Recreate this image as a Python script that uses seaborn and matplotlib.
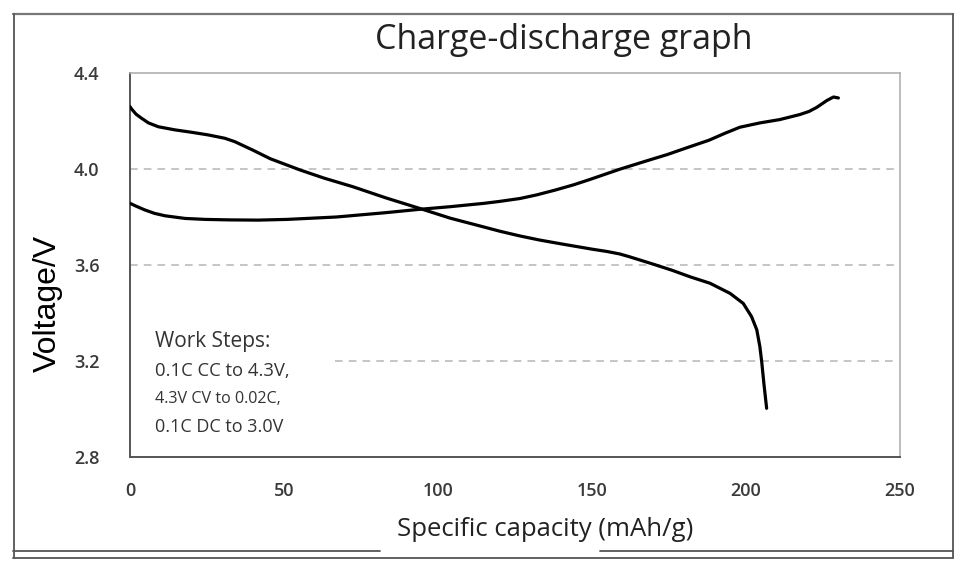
import matplotlib
matplotlib.use("Agg")
from matplotlib import pyplot as plt
from matplotlib.lines import Line2D
import pandas as pd
import seaborn as sns

# discharge curve (0.1C DC to 3.0V)
discharge_cap = [0, 0.5, 2, 3.8, 6, 9.2, 14.6, 20, 25.4, 30.8, 34, 40, 45.5, 55.2, 63, 72.4, 83,
                 94, 104, 115, 120, 126.6, 133, 140, 150, 155, 159, 162, 165, 170, 176, 181.8,
                 188.3, 194.8, 199.1, 201.8, 203.5, 204.5, 205.1, 205.8, 206.7]
discharge_v = [4.26, 4.25, 4.228, 4.211, 4.192, 4.176, 4.163, 4.153, 4.142, 4.128, 4.114, 4.078,
               4.043, 3.996, 3.962, 3.926, 3.88, 3.836, 3.795, 3.758, 3.741, 3.721, 3.704, 3.688,
               3.666, 3.656, 3.646, 3.635, 3.623, 3.603, 3.578, 3.551, 3.524, 3.482, 3.44, 3.385,
               3.33, 3.26, 3.197, 3.107, 3.003]

# charge curve (0.1C CC to 4.3V)
charge_cap = [0, 2, 4.9, 8, 11.4, 17.9, 24.4, 32, 41.6, 51, 67, 83, 94, 104, 115, 120, 126.6,
              132, 138, 144, 149, 159, 168, 174.4, 180, 188, 193, 198, 204.5, 211, 217.5, 220.5,
              223, 226.2, 228.4, 230]
charge_v = [3.857, 3.845, 3.829, 3.815, 3.805, 3.794, 3.79, 3.788, 3.787, 3.79, 3.80, 3.818,
            3.832, 3.843, 3.857, 3.865, 3.877, 3.892, 3.912, 3.934, 3.955, 3.999, 4.035, 4.06,
            4.085, 4.12, 4.148, 4.174, 4.192, 4.206, 4.227, 4.24, 4.257, 4.285, 4.30, 4.296]

x_ticks = [0, 50, 100, 150, 200, 250]
y_ticks = [2.8, 3.2, 3.6, 4.0, 4.4]
grid_levels = [4.0, 3.6, 3.2]
steps_text = ["Work Steps:", "0.1C CC to 4.3V,", "4.3V CV to 0.02C,", "0.1C DC to 3.0V"]

W, H = 973, 573

sns.set_style("white")
plt.rcParams['font.family'] = ['Open Sans', 'DejaVu Sans']

df = pd.concat([
    pd.DataFrame({"cap": discharge_cap, "v": discharge_v, "step": "discharge"}),
    pd.DataFrame({"cap": charge_cap, "v": charge_v, "step": "charge"}),
])

fig = plt.figure(figsize=(W / 100, H / 100), dpi=100)
ax = fig.add_axes([130 / W, 1 - 457 / H, 770 / W, 384 / H])

# 网格虚线
for lv in grid_levels:
    start = 0.266 if lv == 3.2 else 0.0
    ax.axhline(lv, xmin=start, xmax=0.994, color="#b5b5b5", lw=1.1, ls=(0, (5, 4)), zorder=1)

sns.lineplot(data=df, x="cap", y="v", units="step", estimator=None, sort=False,
             color="black", lw=2.3, ax=ax, zorder=3, solid_joinstyle="round",
             solid_capstyle="round")

ax.set_xlim(0, 250)
ax.set_ylim(2.8, 4.4)
ax.set_xticks(x_ticks)
ax.set_yticks(y_ticks)
ax.set_xticklabels([str(t) for t in x_ticks])
ax.set_yticklabels(["%.1f" % t for t in y_ticks])
ax.tick_params(axis="x", direction="in", length=7, width=1.3, color="#555555", pad=18,
               labelsize=13, labelcolor="#3a3a3a")
ax.tick_params(axis="y", direction="in", length=9.5, width=1.3, color="#555555", pad=22,
               labelsize=13, labelcolor="#3a3a3a")
for lbl in ax.get_xticklabels() + ax.get_yticklabels():
    lbl.set_fontweight("semibold")

for side in ["left", "bottom"]:
    ax.spines[side].set_color("#555555")
    ax.spines[side].set_linewidth(1.4)
for side in ["top", "right"]:
    ax.spines[side].set_color("#b0b0b0")
    ax.spines[side].set_linewidth(1.2)

ax.set_xlabel("Specific capacity (mAh/g)", fontsize=18.5, color="#222222", va="center")
ax.xaxis.set_label_coords(0.539, -0.19)
ax.set_ylabel("Voltage/V", fontsize=23, family=["Liberation Sans", "DejaVu Sans"],
              color="black", va="center")
ax.yaxis.set_label_coords(-0.107, 0.40)

fig.text(564 / W, 1 - 40 / H, "Charge-discharge graph", fontsize=24.5, color="#222222",
         ha="center", va="center")

# 工步说明
y_pos = [342, 371, 399, 427]
sizes = [15, 13.3, 11.6, 13]
for txt, yp, fs in zip(steps_text, y_pos, sizes):
    fig.text(155 / W, 1 - yp / H, txt, fontsize=fs, color="#333333", ha="left", va="center")

# 外框
def frame_line(x0, y0, x1, y1, c="#555555", lw=1.3):
    fig.add_artist(Line2D([x0 / W, x1 / W], [1 - y0 / H, 1 - y1 / H], color=c, lw=lw,
                          transform=fig.transFigure))

frame_line(13, 14, 953, 14, c="#777777", lw=1.6)
frame_line(13.5, 14, 13.5, 558)
frame_line(953, 14, 953, 558)
frame_line(13, 551, 380, 551)
frame_line(600, 551, 953, 551)
frame_line(13, 557.5, 953, 557.5)

plt.savefig("out.png", dpi=100)
